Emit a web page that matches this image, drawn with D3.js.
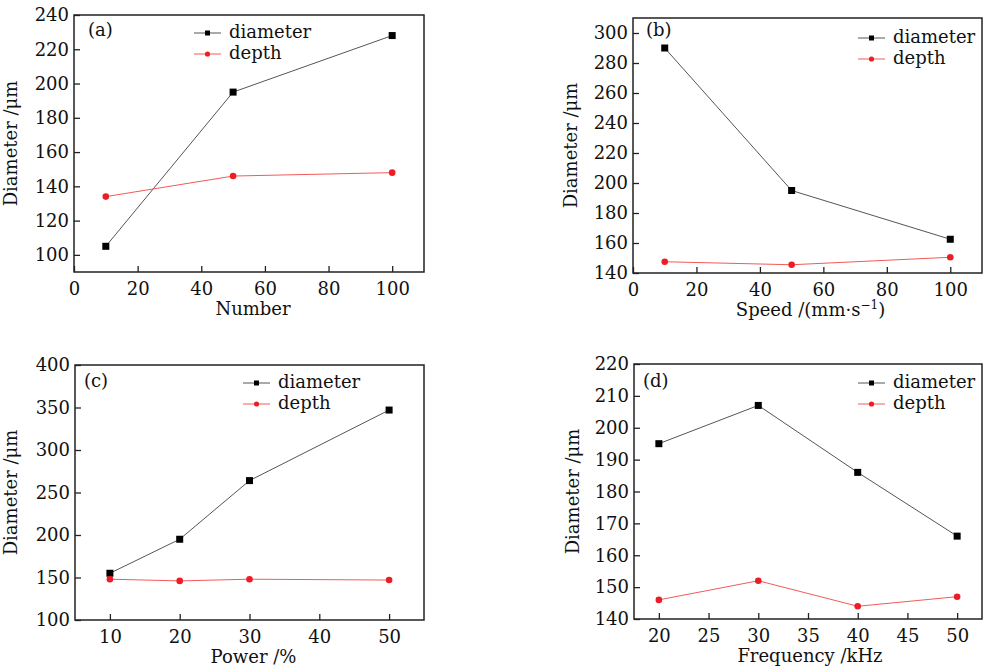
<!DOCTYPE html>
<html>
<head>
<meta charset="utf-8">
<script src="https://cdn.jsdelivr.net/npm/d3@7"></script>
<style>
  body { margin: 0; background: #fff; }
  svg { display: block; }
  text { font-family: "DejaVu Serif", "Liberation Serif", serif; fill: #111; }
</style>
</head>
<body>
<svg id="chart" width="983" height="671"></svg>
<script>
// panel (a): number of pulses
const numberX = [10, 50, 100];
const numberDiameter = [105, 195, 228];
const numberDepth = [134, 146, 148];
const numberXTicks = [0, 20, 40, 60, 80, 100];
const numberYTicks = [100, 120, 140, 160, 180, 200, 220, 240];

// panel (b): speed
const speedX = [10, 50, 100];
const speedDiameter = [290, 195, 162.5];
const speedDepth = [147.5, 145.5, 150.5];
const speedXTicks = [0, 20, 40, 60, 80, 100];
const speedYTicks = [140, 160, 180, 200, 220, 240, 260, 280, 300];

// panel (c): power
const powerX = [10, 20, 30, 50];
const powerDiameter = [155, 195, 264, 347];
const powerDepth = [148, 146, 148, 147];
const powerXTicks = [10, 20, 30, 40, 50];
const powerYTicks = [100, 150, 200, 250, 300, 350, 400];

// panel (d): frequency
const freqX = [20, 30, 40, 50];
const freqDiameter = [195, 207, 186, 166];
const freqDepth = [146, 152, 144, 147];
const freqXTicks = [20, 25, 30, 35, 40, 45, 50];
const freqYTicks = [140, 150, 160, 170, 180, 190, 200, 210, 220];

const seriesNames = ['diameter', 'depth'];

const svg = d3.select('#chart');

function drawPanel(p) {
    const w = p.right - p.left;
    const h = p.bottom - p.top;

    const x = d3.scaleLinear().domain(p.xDomain).range([0, w]);
    const y = d3.scaleLinear().domain(p.yDomain).range([h, 0]);

    const g = svg.append('g')
        .attr('transform', `translate(${p.left}, ${p.top})`);

    // bottom axis, ticks pointing inward
    const xAxis = g.append('g')
        .attr('transform', `translate(0, ${h})`)
        .call(d3.axisBottom(x).tickValues(p.xTicks).tickSize(-6).tickFormat(d3.format('d')));
    xAxis.select('.domain').remove();
    xAxis.selectAll('line').attr('stroke', '#222').attr('stroke-width', 1.3);
    xAxis.selectAll('text').attr('font-size', 18).attr('fill', '#111')
        .attr('dy', '0.71em').attr('y', 10);

    const yAxis = g.append('g')
        .call(d3.axisLeft(y).tickValues(p.yTicks).tickSize(-6).tickFormat(d3.format('d')));
    yAxis.select('.domain').remove();
    yAxis.selectAll('line').attr('stroke', '#222').attr('stroke-width', 1.3);
    yAxis.selectAll('text').attr('font-size', 18).attr('fill', '#111').attr('x', -5);

    // frame
    g.append('rect')
        .attr('x', 0).attr('y', 0).attr('width', w).attr('height', h)
        .attr('fill', 'none').attr('stroke', '#222').attr('stroke-width', 1.5);

    const line = d3.line()
        .x(d => x(d[0]))
        .y(d => y(d[1]));

    const diam = p.xs.map((v, i) => [v, p.diameter[i]]);
    const dep = p.xs.map((v, i) => [v, p.depth[i]]);

    g.append('path').datum(diam).attr('d', line)
        .attr('fill', 'none').attr('stroke', '#555').attr('stroke-width', 1);
    g.append('path').datum(dep).attr('d', line)
        .attr('fill', 'none').attr('stroke', '#f25a5a').attr('stroke-width', 1);

    g.selectAll('.sq').data(diam).enter().append('rect')
        .attr('x', d => x(d[0]) - 3.5).attr('y', d => y(d[1]) - 3.5)
        .attr('width', 7).attr('height', 7).attr('fill', '#000');
    g.selectAll('.dot').data(dep).enter().append('circle')
        .attr('cx', d => x(d[0])).attr('cy', d => y(d[1])).attr('r', 3.3)
        .attr('fill', '#ee1c25');

    // panel letter
    g.append('text').attr('x', p.tagX).attr('y', p.tagY)
        .attr('font-size', 18).attr('dominant-baseline', 'middle').text(p.tag);

    // legend
    const lg = g.append('g').attr('transform', `translate(${p.legX}, ${p.legY})`);
    seriesNames.forEach((name, i) => {
        const row = lg.append('g').attr('transform', `translate(0, ${i * 21})`);
        row.append('line').attr('x1', 0).attr('x2', 27).attr('y1', 0).attr('y2', 0)
            .attr('stroke', i === 0 ? '#555' : '#f25a5a').attr('stroke-width', 1);
        if (i === 0) {
            row.append('rect').attr('x', 11).attr('y', -2.5).attr('width', 5).attr('height', 5).attr('fill', '#000');
        } else {
            row.append('circle').attr('cx', 13.5).attr('cy', 0).attr('r', 2.6).attr('fill', '#ee1c25');
        }
        row.append('text').attr('x', 35).attr('y', 0).attr('dominant-baseline', 'middle')
            .attr('font-size', 18).text(name);
    });

    // axis titles
    g.append('text').attr('x', w / 2 + p.xTitleShift).attr('y', h + 43)
        .attr('text-anchor', 'middle').attr('font-size', 18).html(p.xTitle);
    g.append('text')
        .attr('transform', `translate(${p.yTitleX}, ${h / 2}) rotate(-90)`)
        .attr('text-anchor', 'middle').attr('font-size', 18).text('Diameter /\u03bcm');
}

drawPanel({
    left: 74, top: 15, right: 424, bottom: 272,
    xDomain: [0, 110], yDomain: [90, 240],
    xTicks: numberXTicks, yTicks: numberYTicks,
    xs: numberX, diameter: numberDiameter, depth: numberDepth,
    tag: '(a)', tagX: 14, tagY: 16,
    legX: 120, legY: 18,
    xTitle: 'Number', xTitleShift: 4, yTitleX: -57
});

drawPanel({
    left: 633, top: 18, right: 982, bottom: 273,
    xDomain: [0, 110], yDomain: [140, 310],
    xTicks: speedXTicks, yTicks: speedYTicks,
    xs: speedX, diameter: speedDiameter, depth: speedDepth,
    tag: '(b)', tagX: 13, tagY: 13,
    legX: 225, legY: 20,
    xTitle: 'Speed /(mm\u00b7s<tspan dy="-7" font-size="12">\u22121</tspan><tspan dy="7">)</tspan>',
    xTitleShift: 3, yTitleX: -56
});

drawPanel({
    left: 75, top: 365, right: 424, bottom: 620,
    xDomain: [5, 55], yDomain: [100, 400],
    xTicks: powerXTicks, yTicks: powerYTicks,
    xs: powerX, diameter: powerDiameter, depth: powerDepth,
    tag: '(c)', tagX: 9, tagY: 17,
    legX: 168, legY: 18,
    xTitle: 'Power /%', xTitleShift: 4, yTitleX: -58
});

drawPanel({
    left: 634, top: 364, right: 982, bottom: 619,
    xDomain: [17.5, 52.5], yDomain: [140, 220],
    xTicks: freqXTicks, yTicks: freqYTicks,
    xs: freqX, diameter: freqDiameter, depth: freqDepth,
    tag: '(d)', tagX: 9, tagY: 18,
    legX: 224, legY: 19,
    xTitle: 'Frequency /kHz', xTitleShift: 2, yTitleX: -55
});
</script>
</body>
</html>
